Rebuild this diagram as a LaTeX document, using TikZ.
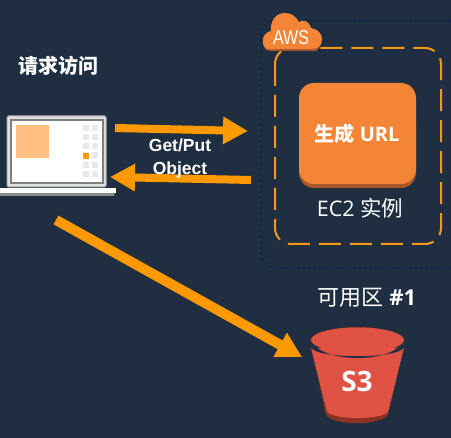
\documentclass[tikz,border=0pt]{standalone}
\usepackage{fontspec}
\setmainfont{Open Sans}
\newfontfamily\cjk{Noto Sans CJK SC}
\newfontfamily\narrowf[FakeStretch=0.8]{Liberation Sans}
\newfontfamily\arialf{Liberation Sans}
\usetikzlibrary{arrows.meta}
\definecolor{bgc}{HTML}{1F2F41}
\definecolor{orangeA}{HTML}{F58536}
\definecolor{orangeD}{HTML}{A8582A}
\definecolor{arrowc}{HTML}{FF9900}
\definecolor{dashc}{HTML}{F7981D}
\definecolor{dotc}{HTML}{0A2A47}
\definecolor{redA}{HTML}{E05243}
\definecolor{redD}{HTML}{8C3123}
\definecolor{tile}{HTML}{E9E9E9}
\tikzset{
  flow/.style={draw=arrowc,line width=8pt,-{Triangle[length=25pt,width=26pt]}},
  lbl/.style={text=white,inner sep=0pt}
}
\begin{document}
\begin{tikzpicture}[x=1pt,y=-1pt]
\path[use as bounding box,fill=bgc] (0,0) rectangle (451,438);
% availability zone dotted
\draw[dotc,line width=2.4pt,dash pattern=on 2.4pt off 3.2pt,rounded corners=16pt] (451,21) -- (261,21) -- (261,268) -- (451,268);
% dashed box
\draw[dashc,line width=2pt,dash pattern=on 22pt off 9pt,rounded corners=16pt] (275,48) rectangle (441,244);
% AWS cloud
\fill[orangeD] (264,46) .. controls (264,40) and (268,37) .. (272,36) -- (318,36) .. controls (323,38) and (323,46) .. (316,51) -- (270,51) .. controls (266,50) and (264,49) .. (264,46) -- cycle;
\fill[orangeA] (268,49) .. controls (260,47) and (261,33) .. (271,31) .. controls (270,22) and (275,13) .. (285,13) .. controls (292,13) and (296,17) .. (299,22) .. controls (303,19) and (309,21) .. (311,28) .. controls (318,29) and (322,34) .. (322,39) .. controls (322,45) and (318,49) .. (312,49) -- cycle;
\node[lbl,font={\narrowf\fontsize{20}{20}\selectfont}] (aws) at (291,38) {AWS};
% generate URL box
\fill[orangeD,rounded corners=15pt] (299,110) rectangle (416,188);
\fill[orangeA,rounded corners=15pt] (299,83) rectangle (416,184);
\node[lbl,font=\bfseries\fontsize{20}{20}\selectfont] (url) at (357,134) {{\cjk 生成} URL};
\node[lbl,font=\fontsize{21.5}{21.5}\selectfont] (ec2) at (360,208) {EC2 {\cjk 实例}};
\node[lbl,font=\fontsize{22}{22}\selectfont] (az) at (367,298) {{\cjk 可用区} \textbf{\#1}};
\node[lbl,font={\cjk\bfseries\fontsize{20}{20}\selectfont}] (req) at (59,66) {请求访问};
% laptop
\fill[black!45] (0,190) -- (116,190) -- (114,196) -- (0,196) -- cycle;
\fill[white] (0,188) rectangle (116,193);
\filldraw[fill=white!88!black,draw=black!30,line width=1pt,rounded corners=1.5pt] (7,116) rectangle (106,187);
\draw[black!50,line width=1.2pt,fill=white] (11,120) rectangle (103,183);
\fill[orange!50!white] (16,125) rectangle (49,158);
\foreach \yy in {125,134,143.5,152.5,162,171}{
  \fill[tile] (83,\yy) rectangle (89,\yy+6);
  \fill[tile] (92,\yy) rectangle (98,\yy+6);
}
\fill[orange!80!yellow] (83,153) rectangle (89,159);
\coordinate (a1s) at (115,128);
\coordinate (a1e) at (248,131);
\coordinate (a2s) at (251,180);
\coordinate (a2e) at (110,177);
\coordinate (a3s) at (56,220);
\coordinate (a3e) at (302,357);
\draw[flow] (a1s) -- (a1e);
\draw[flow] (a2s) -- (a2e);
\draw[flow,line width=10pt] (a3s) -- (a3e);
\node[lbl,align=center,font={\arialf\bfseries\fontsize{17.5}{23}\selectfont}] (gp) at (180,158) {Get/Put\\Object};
% S3
\fill[redD] (312,349) -- (403,349) -- (388,415) .. controls (380,426) and (334,426) .. (326,415) -- cycle;
\fill[redA] (311,348) -- (404,348) -- (388,412) .. controls (380,420) and (335,420) .. (327,412) -- cycle;
\fill[bgc] (311,340) .. controls (320,364) and (395,364) .. (404,340) -- (404,348) .. controls (395,359) and (320,359) .. (311,348) -- cycle;
\fill[redD] (311,341) arc[start angle=180,end angle=360,x radius=46.5,y radius=14] -- cycle;
\fill[redA] (357.5,340) ellipse[x radius=46.5,y radius=12.5];
\node[lbl,font={\bfseries\fontsize{28}{28}\selectfont}] (s3) at (357,382) {S3};
\end{tikzpicture}
\end{document}
